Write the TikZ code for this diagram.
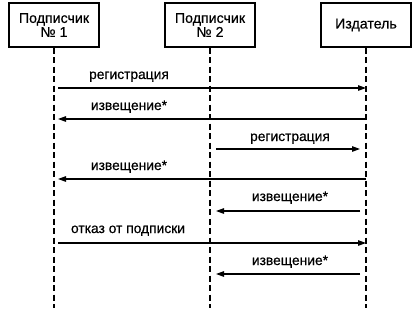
\documentclass[tikz,border=0pt]{standalone}
\usepackage{fontspec}
\setmainfont[FakeBold=0.5]{Liberation Sans}
\usetikzlibrary{arrows.meta, positioning}

\begin{document}
\begin{tikzpicture}[
      x=1pt, y=-1pt,
      obj/.style={draw, line width=1.3pt, minimum width=90pt, minimum height=44pt, inner sep=0pt,
                  align=center, font=\fontsize{14.2}{14}\selectfont},
      life/.style={line width=1.2pt, dash pattern=on 6pt off 3.5pt},
      msg/.style={line width=1.2pt, -{Triangle[length=8pt, width=5.5pt]}},
      lbl/.style={font=\fontsize{13.8}{14}\selectfont, text height=9pt, text depth=3pt, inner sep=0pt}
    ]
      \useasboundingbox (0,0) rectangle (416,314);

      % Objects
      \node[obj] (sub1) at (54,25) {Подписчик\\№ 1};
      \node[obj] (sub2) at (210,25) {Подписчик\\№ 2};
      \node[obj] (pub) at (366,25) {Издатель};

      % Lifelines
      \foreach \o in {sub1,sub2,pub} {
        \coordinate (\o-end) at (\o |- 0,308);
        \draw[life] (\o.south) -- (\o-end);
      }

      % points on the lifelines, one row per message
      \foreach \y [count=\i] in {88,119,149,179,211,243,274} {
        \foreach \o in {sub1,sub2,pub} {
          \coordinate (\o-\i) at (\o |- 0,\y);
        }
      }

      % Messages
      \draw[msg] ([xshift=4pt]sub1-1) -- (pub-1);
      \node[lbl] (reg1) at (129,76) {регистрация};

      \draw[msg] (pub-2) -- ([xshift=4pt]sub1-2);
      \node[lbl] (ntf1) at (129,107) {извещение*};

      \draw[msg] ([xshift=6pt]sub2-3) -- ([xshift=-6pt]pub-3);
      \node[lbl] (reg2) at (290,138) {регистрация};

      \draw[msg] (pub-4) -- ([xshift=4pt]sub1-4);
      \node[lbl] (ntf2) at (129,167) {извещение*};

      \draw[msg] ([xshift=-6pt]pub-5) -- ([xshift=6pt]sub2-5);
      \node[lbl] (ntf3) at (290,198) {извещение*};

      \draw[msg] ([xshift=4pt]sub1-6) -- (pub-6);
      \node[lbl] (unsub) at (128,230) {отказ от подписки};

      \draw[msg] ([xshift=-6pt]pub-7) -- ([xshift=6pt]sub2-7);
      \node[lbl] (ntf4) at (290,262) {извещение*};
    \end{tikzpicture}
\end{document}
